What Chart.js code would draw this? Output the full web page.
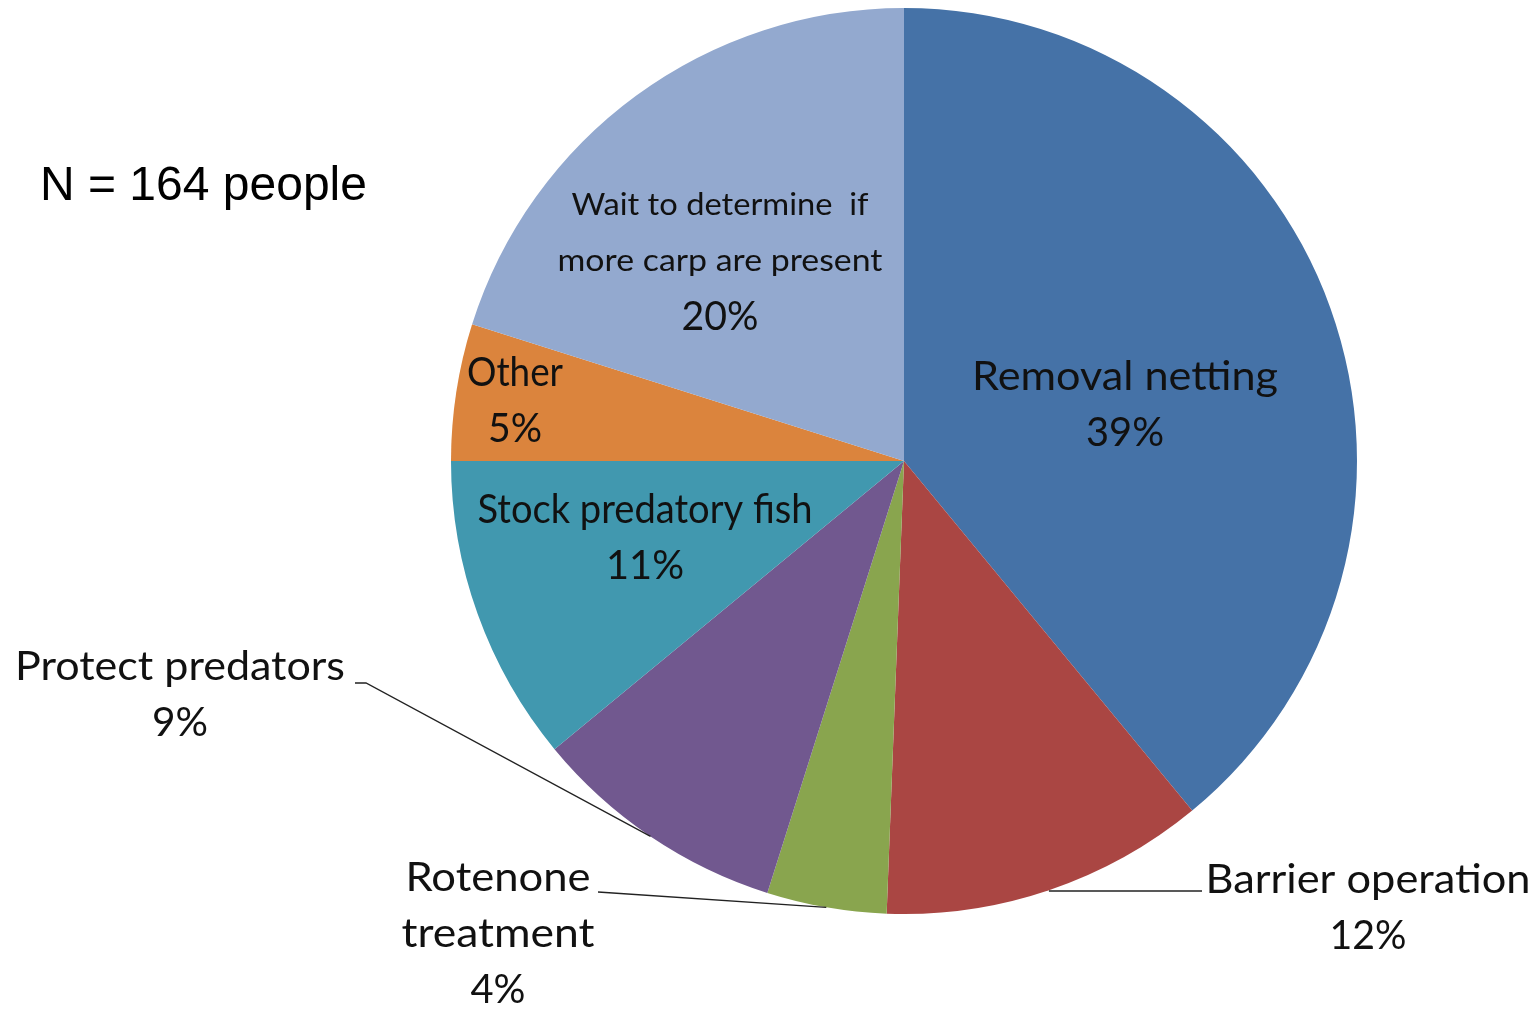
<!DOCTYPE html>
<html><head><meta charset="utf-8">
<script src="https://cdn.jsdelivr.net/npm/chart.js@4"></script>
<style>html,body{margin:0;padding:0;background:#fff;}canvas{display:block;}</style>
</head><body>
<canvas id="c" width="1536" height="1011"></canvas>
<script>
// Data (counts of respondents, N = 164)
const categories = ["Removal netting","Barrier operation","Rotenone treatment","Protect predators","Stock predatory fish","Other","Wait to determine if more carp are present"];
const counts = [64, 19, 7, 15, 18, 8, 33];
const percentLabels = ["39%","12%","4%","9%","11%","5%","20%"];
const colors = ["#4572A7","#AA4643","#89A54E","#71588F","#4198AF","#DB843D","#93A9CF"];
const noteText = "N = 164 people";

const FONT = "Lato, 'Open Sans', sans-serif";
// label layout: offsets relative to pie centre (px); each line = [text, font px, rendered width px]
const labelLayout = [
  {lines:[["Removal netting",40,306],[percentLabels[0],40,78]], dx:221, dy:-84},
  {lines:[["Barrier operation",40,325],[percentLabels[1],40,77]], dx:464, dy:419, leader:{fromDx:298, fromDy:430, flat:true}},
  {lines:[["Rotenone",40,185],["treatment",40,193],[percentLabels[2],40,55]], dx:-406, dy:417, leader:{fromDx:-306, fromDy:431}},
  {lines:[["Protect predators",40,330],[percentLabels[3],40,56]], dx:-724, dy:206, leader:{fromDx:-549, fromDy:222, knee:-538}},
  {lines:[["Stock predatory fish",40,335],[percentLabels[4],40,78]], dx:-259, dy:49},
  {lines:[["Other",40,96],[percentLabels[5],40,54]], dx:-389, dy:-88},
  {lines:[["Wait to determine  if",31,297],["more carp are present",31,325],[percentLabels[6],40,77]], dx:-184, dy:-256},
];

const labelPlugin = {
  id:'labels',
  afterDraw(chart){
    const ctx = chart.ctx;
    const meta = chart.getDatasetMeta(0);
    const a0 = meta.data[0];
    const cx = a0.x, cy = a0.y, r = a0.outerRadius;
    ctx.save();
    // leader lines
    ctx.strokeStyle = "#222"; ctx.lineWidth = 1.3;
    labelLayout.forEach((L,i)=>{
      if(!L.leader) return;
      const arc = meta.data[i];
      const mid = (arc.startAngle+arc.endAngle)/2;
      const ex = cx + Math.cos(mid)*r, ey = cy + Math.sin(mid)*r;
      ctx.beginPath();
      ctx.moveTo(cx+L.leader.fromDx, cy+L.leader.fromDy);
      if(L.leader.knee!==undefined) ctx.lineTo(cx+L.leader.knee, cy+L.leader.fromDy);
      ctx.lineTo(ex, L.leader.flat ? cy+L.leader.fromDy : ey);
      ctx.stroke();
    });
    ctx.fillStyle = "#111";
    ctx.textAlign = "center"; ctx.textBaseline = "middle";
    labelLayout.forEach(L=>{
      L.lines.forEach((ln,j)=>{
        ctx.font = ln[1]+"px "+FONT;
        const w = ctx.measureText(ln[0]).width;
        ctx.save();
        ctx.translate(cx+L.dx, cy+L.dy+j*56);
        ctx.scale(ln[2]/w, 1);
        ctx.fillText(ln[0], 0, 0);
        ctx.restore();
      });
    });
    ctx.textAlign = "left";
    ctx.font = "48px 'Liberation Sans', Arial, sans-serif";
    ctx.fillStyle = "#000";
    ctx.fillText(noteText, 40, 187);
    ctx.restore();
  }
};

new Chart(document.getElementById('c'), {
  type:'pie',
  data:{labels:categories, datasets:[{data:counts, backgroundColor:colors, borderWidth:0}]},
  options:{
    responsive:false, animation:false,
    layout:{padding:{left:451, right:179, top:8, bottom:97}},
    plugins:{legend:{display:false}, tooltip:{enabled:false}}
  },
  plugins:[labelPlugin]
});
</script>
</body></html>
